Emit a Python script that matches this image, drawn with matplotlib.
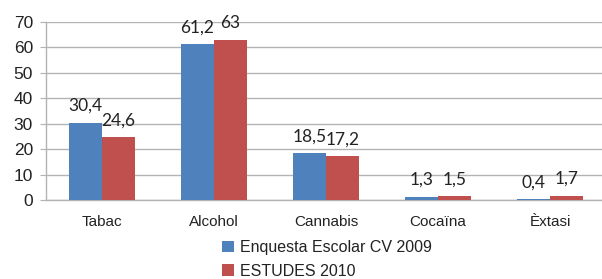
import matplotlib
matplotlib.use("Agg")
import matplotlib.pyplot as plt
import numpy as np

categories = ["Tabac", "Alcohol", "Cannabis", "Cocaïna", "Èxtasi"]
series_names = ["Enquesta Escolar CV 2009", "ESTUDES 2010"]
enquesta_2009 = [30.4, 61.2, 18.5, 1.3, 0.4]
estudes_2010 = [24.6, 63, 17.2, 1.5, 1.7]
label_2009 = ["30,4", "61,2", "18,5", "1,3", "0,4"]
label_2010 = ["24,6", "63", "17,2", "1,5", "1,7"]
yticks = [0, 10, 20, 30, 40, 50, 60, 70]

colors = ["#4F81BD", "#C0504D"]
grid_c = "#B3B3B3"

fig = plt.figure(figsize=(6.02, 2.79), dpi=100)
ax = fig.add_axes([46/602, 1-200/279, 560/602, 178/279])

x = np.arange(len(categories))
w = 0.295
b1 = ax.bar(x - w/2, enquesta_2009, w, color=colors[0], label=series_names[0], zorder=3)
b2 = ax.bar(x + w/2, estudes_2010, w, color=colors[1], label=series_names[1], zorder=3)

for bars, labs in ((b1, label_2009), (b2, label_2010)):
    for r, t in zip(bars, labs):
        ax.annotate(t, (r.get_x() + r.get_width()/2, r.get_height()),
                    xytext=(0, 8.5), textcoords="offset points",
                    ha="center", va="baseline", fontsize=12.5,
                    family=["Lato", "DejaVu Sans"], color="#222222", zorder=4)

ax.set_xlim(-0.5, len(categories) - 0.5)
ax.set_ylim(0, 70)
ax.set_yticks(yticks)
ax.set_yticklabels([str(v) for v in yticks], family="Liberation Sans", fontsize=12.5, color="#222222")
ax.set_xticks(x)
ax.set_xticklabels(categories, family="Liberation Sans", fontsize=11, color="#222222")
ax.tick_params(axis="y", length=4.3, color=grid_c, pad=5)
ax.tick_params(axis="x", length=0, pad=11)
ax.yaxis.grid(True, color=grid_c, linewidth=1, zorder=0)
ax.set_axisbelow(True)
for s in ("top", "right"):
    ax.spines[s].set_visible(False)
ax.spines["left"].set_color(grid_c)
ax.spines["bottom"].set_color(grid_c)
ax.spines["left"].set_linewidth(1)
ax.spines["bottom"].set_linewidth(1)

leg = fig.legend(handles=[b1, b2], loc="upper left", bbox_to_anchor=(222/602, 1-240/279),
                 frameon=False, prop={"family": "Liberation Sans", "size": 11.5},
                 handlelength=0.75, handleheight=0.75, handletextpad=0.4,
                 labelspacing=0.55, borderpad=0, borderaxespad=0)
for t in leg.get_texts():
    t.set_color("#222222")

fig.savefig("out.png", dpi=100)
